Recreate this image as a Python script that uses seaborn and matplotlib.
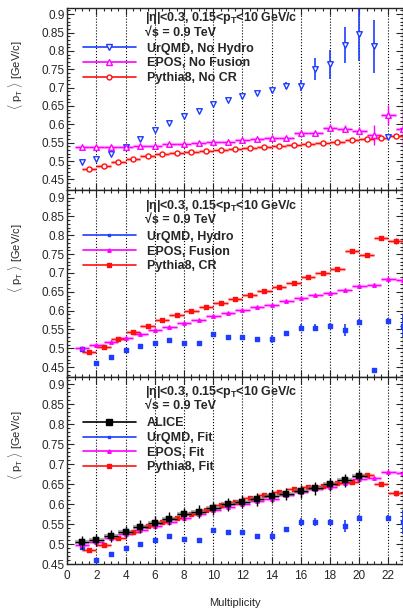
import numpy as np
import pandas as pd
import seaborn as sns
import matplotlib.pyplot as plt
from matplotlib.lines import Line2D
from matplotlib.ticker import MultipleLocator

# multiplicity bins
mult = np.arange(1, 24)            # 1 .. 23
mult_py = np.arange(1, 23) + 0.5   # pythia points sit at half bins

# panel 1 : no hydro / no fusion / no CR
urqmd_nohydro = [0.498, 0.506, 0.520, 0.539, 0.561, 0.584, 0.603, 0.623, 0.637, 0.655, 0.666,
                 0.676, 0.686, 0.694, 0.705, 0.705, 0.751, 0.763, 0.815, 0.845, 0.812, 0.566]
urqmd_nohydro_err = [0.003, 0.003, 0.003, 0.003, 0.003, 0.004, 0.004, 0.004, 0.005, 0.005, 0.005,
                     0.006, 0.006, 0.008, 0.010, 0.015, 0.029, 0.040, 0.049, 0.073, 0.071, 0.004]
epos_nofusion = [0.538, 0.538, 0.537, 0.539, 0.540, 0.541, 0.545, 0.546, 0.548, 0.551, 0.553, 0.556,
                 0.560, 0.563, 0.563, 0.575, 0.575, 0.590, 0.588, 0.582, 0.570, 0.625, 0.588]
epos_nofusion_err = [0.002, 0.002, 0.002, 0.002, 0.002, 0.002, 0.002, 0.002, 0.002, 0.002, 0.002, 0.002,
                     0.002, 0.003, 0.004, 0.004, 0.005, 0.010, 0.010, 0.012, 0.027, 0.027, 0.045]
pythia_nocr = [0.478, 0.487, 0.496, 0.505, 0.513, 0.518, 0.522, 0.525, 0.527, 0.531, 0.533,
               0.535, 0.538, 0.542, 0.543, 0.547, 0.549, 0.552, 0.557, 0.560, 0.563, 0.567]
pythia_nocr_err = [0.002] * 18 + [0.003, 0.003, 0.004, 0.004]

# panel 2 : hydro / fusion / CR
urqmd_hydro = [0.497, 0.462, 0.478, 0.496, 0.505, 0.514, 0.522, 0.515, 0.514, 0.537, 0.531, 0.529,
               0.525, 0.525, 0.540, 0.555, 0.555, 0.560, 0.549, 0.570, 0.442, 0.572, 0.560]
urqmd_hydro_err = [0.006, 0.004, 0.004, 0.004, 0.004, 0.005, 0.004, 0.004, 0.004, 0.006, 0.005, 0.006,
                   0.006, 0.010, 0.005, 0.010, 0.010, 0.008, 0.016, 0.008, 0.006, 0.008, 0.030]
epos_fusion = [0.502, 0.509, 0.518, 0.528, 0.538, 0.548, 0.557, 0.567, 0.576, 0.585, 0.594, 0.601,
               0.610, 0.616, 0.626, 0.634, 0.642, 0.646, 0.654, 0.666, 0.668, 0.683, 0.680]
epos_fusion_err = [0.002] * 17 + [0.003, 0.003, 0.004, 0.004, 0.006, 0.010]
pythia_cr = [0.489, 0.504, 0.524, 0.544, 0.560, 0.575, 0.588, 0.599, 0.610, 0.621, 0.631,
             0.642, 0.651, 0.663, 0.673, 0.689, 0.700, 0.710, 0.758, 0.747, 0.793, 0.785]
pythia_cr_err = [0.002] * 18 + [0.003, 0.004, 0.006, 0.008]

# panel 3 : ALICE data + fitted models
alice = [0.504, 0.510, 0.520, 0.530, 0.543, 0.553, 0.563, 0.574, 0.581, 0.589,
         0.599, 0.606, 0.612, 0.619, 0.625, 0.632, 0.639, 0.649, 0.659, 0.670]
alice_err = [0.016] * 20
urqmd_fit = [0.492, 0.461, 0.475, 0.490, 0.501, 0.510, 0.520, 0.512, 0.510, 0.535, 0.530, 0.529,
             0.519, 0.520, 0.537, 0.554, 0.554, 0.555, 0.545, 0.565, 0.442, 0.565, 0.555]
urqmd_fit_err = urqmd_hydro_err
epos_fit = [0.497, 0.504, 0.514, 0.525, 0.535, 0.545, 0.555, 0.565, 0.574, 0.584, 0.592, 0.599,
            0.607, 0.613, 0.622, 0.629, 0.637, 0.642, 0.653, 0.663, 0.665, 0.680, 0.677]
epos_fit_err = [0.002] * 17 + [0.003, 0.003, 0.004, 0.004, 0.006, 0.010]
pythia_fit = [0.485, 0.498, 0.514, 0.530, 0.544, 0.555, 0.566, 0.576, 0.586, 0.598, 0.605,
              0.614, 0.623, 0.630, 0.637, 0.642, 0.645, 0.652, 0.656, 0.672, 0.651, 0.627]
pythia_fit_err = [0.002] * 18 + [0.003, 0.004, 0.004, 0.006]

BLUE = '#1f3dff'
MAG = '#ff00ff'
RED = '#ff1010'

sns.set_style('ticks')
plt.rcParams['font.family'] = ['Liberation Sans', 'DejaVu Sans']
plt.rcParams['mathtext.fontset'] = 'custom'
plt.rcParams['mathtext.rm'] = 'Liberation Sans'
plt.rcParams['mathtext.bf'] = 'Liberation Sans:bold'


def draw_series(ax, x, y, err, color, marker, filled, size, xbar=True):
    x = np.asarray(x, dtype=float)
    y = np.asarray(y, dtype=float)
    n = len(y)
    x = x[:n]
    if xbar:
        ax.hlines(y, x - 0.5, x + 0.5, color=color, lw=2.5, alpha=0.3, zorder=2)
        ax.errorbar(x, y, yerr=err, xerr=0.5, fmt='none', ecolor=color, elinewidth=1, capsize=0, zorder=2)
    else:
        ax.errorbar(x, y, yerr=err, fmt='none', ecolor=color, elinewidth=1.2, capsize=0, zorder=2)
    df = pd.DataFrame({'x': x, 'y': y})
    sns.scatterplot(data=df, x='x', y='y', ax=ax, marker=marker, s=size,
                    facecolor=color if filled else 'white', edgecolor=color,
                    linewidth=1, zorder=3, legend=False)


fig = plt.figure(figsize=(4.03, 6.10), dpi=100)
left, width = 0.167, 0.833
ax1 = fig.add_axes([left, 0.6885, width, 0.2985])
ax2 = fig.add_axes([left, 0.382, width, 0.3065])
ax3 = fig.add_axes([left, 0.0754, width, 0.3066])

# panel 1
draw_series(ax1, mult, urqmd_nohydro, urqmd_nohydro_err, BLUE, 'v', False, 16, xbar=False)
draw_series(ax1, mult, epos_nofusion, epos_nofusion_err, MAG, '^', False, 16)
draw_series(ax1, mult_py, pythia_nocr, pythia_nocr_err, RED, 'o', False, 13)

# panel 2
draw_series(ax2, mult, urqmd_hydro, urqmd_hydro_err, BLUE, 's', True, 5, xbar=False)
draw_series(ax2, mult, epos_fusion, epos_fusion_err, MAG, '^', True, 6)
draw_series(ax2, mult_py, pythia_cr, pythia_cr_err, RED, 's', True, 10)

# panel 3
ax3.hlines(alice, mult[:20] - 0.5, mult[:20] + 0.5, color='gray', lw=3, alpha=0.6, zorder=4)
draw_series(ax3, mult, urqmd_fit, urqmd_fit_err, BLUE, 's', True, 5, xbar=False)
draw_series(ax3, mult, epos_fit, epos_fit_err, MAG, '^', True, 6)
draw_series(ax3, mult_py, pythia_fit, pythia_fit_err, RED, 's', True, 7)
ax3.errorbar(mult[:20], alice, yerr=alice_err, xerr=0.5, fmt='none', ecolor='black',
             elinewidth=1, capsize=0, zorder=5)
sns.scatterplot(x=mult[:20], y=alice, ax=ax3, marker='s', s=20, facecolor='black',
                edgecolor='black', zorder=6, legend=False)

ylims = [(0.421, 0.917), (0.424, 0.920), (0.45, 0.918)]
for ax, yl in zip([ax1, ax2, ax3], ylims):
    ax.set_xlim(0, 23)
    ax.set_ylim(*yl)
    ax.xaxis.set_major_locator(MultipleLocator(2))
    ax.xaxis.set_minor_locator(MultipleLocator(0.5))
    ax.yaxis.set_major_locator(MultipleLocator(0.05))
    ax.yaxis.set_minor_locator(MultipleLocator(0.01))
    ax.tick_params(which='both', direction='in', top=True, right=True, labelsize=8.5, pad=2, width=0.8)
    ax.tick_params(which='major', length=5)
    ax.tick_params(which='minor', length=2.5)
    ax.grid(axis='x', which='major', linestyle=':', color='black', lw=0.8)
    ax.set_xlabel('')
    ax.set_ylabel('')
    for sp in ax.spines.values():
        sp.set_linewidth(1)
        sp.set_visible(True)
    ax.set_yticklabels([f'{t:g}' for t in ax.get_yticks()])
ax1.tick_params(labelbottom=False)
ax2.tick_params(labelbottom=False)
ax3.tick_params(axis='x', pad=4)

# header text + legends
head1 = '|η|<0.3, 0.15<p$_{\\mathbf{T}}$<10 GeV/c'
head2 = '√s = 0.9 TeV'
text_pos = [(0.945, 0.863), (0.916, 0.840), (0.921, 0.845)]
for ax, (y1, y2) in zip([ax1, ax2, ax3], text_pos):
    ax.text(0.231, y1, head1, transform=ax.transAxes, fontsize=9, fontweight='bold', va='center')
    ax.text(0.231, y2, head2, transform=ax.transAxes, fontsize=9, fontweight='bold', va='center')

leg1 = [Line2D([], [], color=BLUE, marker='v', mfc='white', ms=4, lw=1.2, label='UrQMD, No Hydro'),
        Line2D([], [], color=MAG, marker='^', mfc='white', ms=4, lw=1.2, label='EPOS, No Fusion'),
        Line2D([], [], color=RED, marker='o', mfc='white', ms=3.5, lw=1.2, label='Pythia8, No CR')]
leg2 = [Line2D([], [], color=BLUE, marker='s', ms=2, lw=1.2, label='UrQMD, Hydro'),
        Line2D([], [], color=MAG, marker='^', ms=2.5, lw=1.2, label='EPOS, Fusion'),
        Line2D([], [], color=RED, marker='s', ms=3, lw=1.2, label='Pythia8, CR')]
leg3 = [Line2D([], [], color='black', marker='s', ms=4.5, lw=1.2, label='ALICE'),
        Line2D([], [], color=BLUE, marker='s', ms=2, lw=1.2, label='UrQMD, Fit'),
        Line2D([], [], color=MAG, marker='^', ms=2.5, lw=1.2, label='EPOS, Fit'),
        Line2D([], [], color=RED, marker='s', ms=3, lw=1.2, label='Pythia8, Fit')]
leg_centers = [0.695, 0.671, 0.6345]
for ax, handles, yc in zip([ax1, ax2, ax3], [leg1, leg2, leg3], leg_centers):
    ax.legend(handles=handles, loc='center left', bbox_to_anchor=(0.047, yc), frameon=False,
              handlelength=4.2, handletextpad=0.9, labelspacing=0.22, borderpad=0, borderaxespad=0,
              prop={'weight': 'bold', 'size': 9})

ylab = '$\\langle$ p$_{\\rm T}$ $\\rangle$ [GeV/c]'
for ax in [ax1, ax2, ax3]:
    ax.text(-0.155, 0.82, ylab, transform=ax.transAxes, rotation=90, fontsize=8,
            ha='center', va='top')

fig.text(0.583, 0.011, 'Multiplicity', ha='center', va='center', fontsize=8)

fig.savefig('out.png', dpi=100)
